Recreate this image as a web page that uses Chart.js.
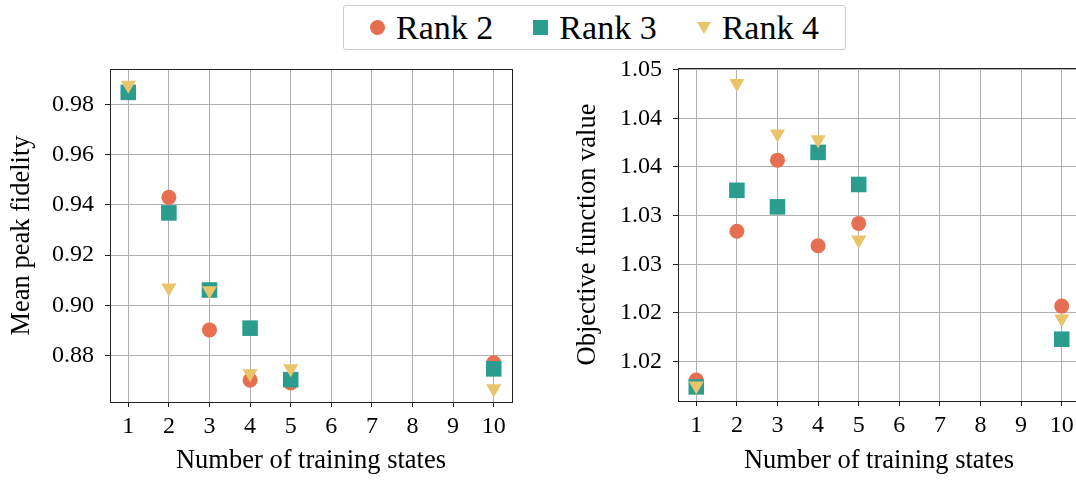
<!DOCTYPE html>
<html>
<head>
<meta charset="utf-8">
<script src="https://cdn.jsdelivr.net/npm/chart.js@4"></script>
<style>
  html, body { margin: 0; padding: 0; background: #fff; overflow: hidden; }
  body { width: 1076px; height: 480px; position: relative; font-family: "Liberation Serif", serif; }
  canvas { position: absolute; top: 0; }
  #left { left: 0; }
  #right { left: 540px; }
  #legend {
    position: absolute; left: 343px; top: 5px; width: 501px; height: 43px;
    border: 1px solid #cccccc; border-radius: 3px; box-sizing: content-box;
    display: flex; align-items: center; justify-content: center; gap: 40px;
    font-size: 34px; color: #000;
  }
  .item { display: flex; align-items: center; gap: 11px; }
  .mk { display: inline-block; }
</style>
</head>
<body>
<div id="legend"></div>
<canvas id="left" width="540" height="480"></canvas>
<canvas id="right" width="560" height="480"></canvas>
<script>
const xValues = [1, 2, 3, 4, 5, 10];
const xTicks = [1, 2, 3, 4, 5, 6, 7, 8, 9, 10];
const seriesNames = ['Rank 2', 'Rank 3', 'Rank 4'];

// left panel: mean peak fidelity
const fidelityRank2 = [0.9848, 0.9430, 0.8902, 0.8702, 0.8691, 0.8771];
const fidelityRank3 = [0.9848, 0.9368, 0.9061, 0.8909, 0.8704, 0.8747];
const fidelityRank4 = [0.9877, 0.9070, 0.9059, 0.8728, 0.8748, 0.8668];
const fidelityTicks = [0.88, 0.90, 0.92, 0.94, 0.96, 0.98];

// right panel: objective function value
const objectiveRank2 = [1.0156, 1.0309, 1.0382, 1.0294, 1.0317, 1.0232];
const objectiveRank3 = [1.0149, 1.0351, 1.0334, 1.0390, 1.0357, 1.0198];
const objectiveRank4 = [1.0150, 1.0461, 1.0409, 1.0403, 1.0300, 1.0219];
const objectiveTicks = [1.0175, 1.0225, 1.0275, 1.0325, 1.0375, 1.0425, 1.0475];

const colors = ['#e76f51', '#2a9d8f', '#e9c46a'];
const FONT = 'Liberation Serif';

function pts(ys) {
  return xValues.map((x, i) => ({ x: x, y: ys[i] }));
}

// order: triangles on top, then squares, circles at the bottom
function makeDatasets(r2, r3, r4) {
  return [
    { label: seriesNames[0], data: pts(r2), order: 3, pointStyle: 'circle', pointRadius: 7.5,
      backgroundColor: colors[0], borderColor: colors[0], borderWidth: 0 },
    { label: seriesNames[1], data: pts(r3), order: 2, pointStyle: 'rect', pointRadius: 11,
      backgroundColor: colors[1], borderColor: colors[1], borderWidth: 0 },
    { label: seriesNames[2], data: pts(r4), order: 1, pointStyle: 'triangle', rotation: 180, pointRadius: 8.7,
      backgroundColor: colors[2], borderColor: colors[2], borderWidth: 0 }
  ];
}

const frame = {
  id: 'frame',
  afterDatasetsDraw(chart) {
    const a = chart.chartArea, ctx = chart.ctx;
    ctx.save();
    ctx.strokeStyle = '#222';
    ctx.lineWidth = 1;
    ctx.strokeRect(Math.round(a.left) + 0.5, Math.round(a.top) + 0.5,
      Math.round(a.right - a.left), Math.round(a.bottom - a.top));
    ctx.restore();
  }
};

function panel(id, datasets, yTicks, yMin, yMax, yTitle, cfg) {
  return new Chart(document.getElementById(id), {
    type: 'scatter',
    data: { datasets: datasets },
    options: {
      responsive: false,
      animation: false,
      layout: { padding: { top: cfg.top, right: cfg.right, bottom: 0, left: 0 } },
      plugins: { legend: { display: false }, tooltip: { enabled: false } },
      scales: {
        x: {
          type: 'linear', min: 0.55, max: 10.45,
          afterBuildTicks: s => { s.ticks = xTicks.map(v => ({ value: v })); },
          afterFit: s => { s.height = cfg.xHeight; },
          grid: { color: '#b0b0b0', lineWidth: 1, tickColor: '#222', tickLength: 5 },
          border: { display: false },
          ticks: { color: '#000', padding: 5, font: { family: FONT, size: 24 }, callback: v => String(v) },
          title: { display: true, text: 'Number of training states', color: '#000',
                   font: { family: FONT, size: 26.5 }, padding: { top: 0, bottom: 3 } }
        },
        y: {
          min: yMin, max: yMax,
          afterBuildTicks: s => { s.ticks = yTicks.map(v => ({ value: v })); },
          afterFit: s => { s.width = cfg.yWidth; },
          grid: { color: '#b0b0b0', lineWidth: 1, tickColor: '#222', tickLength: 5 },
          border: { display: false },
          ticks: { color: '#000', padding: 11, font: { family: FONT, size: 24 }, callback: v => v.toFixed(2) },
          title: { display: true, text: yTitle, color: '#000',
                   font: { family: FONT, size: 26.5 }, padding: { top: cfg.yTitlePad, bottom: 0 } }
        }
      }
    },
    plugins: [frame]
  });
}

panel('left', makeDatasets(fidelityRank2, fidelityRank3, fidelityRank4),
  fidelityTicks, 0.8615, 0.9941, 'Mean peak fidelity',
  { top: 69, right: 28, xHeight: 78, yWidth: 110, yTitlePad: 6 });

panel('right', makeDatasets(objectiveRank2, objectiveRank3, objectiveRank4),
  objectiveTicks, 1.01345, 1.04767, 'Objective function value',
  { top: 68, right: 20, xHeight: 79, yWidth: 138, yTitlePad: 32 });

// shared legend built from the series names
const legend = document.getElementById('legend');
seriesNames.forEach((name, i) => {
  const item = document.createElement('span');
  item.className = 'item';
  const mk = document.createElement('span');
  mk.className = 'mk';
  if (i === 0) {
    mk.style.cssText = `width:15px;height:15px;border-radius:50%;background:${colors[0]}`;
  } else if (i === 1) {
    mk.style.cssText = `width:15px;height:15px;background:${colors[1]}`;
  } else {
    mk.style.cssText = `width:0;height:0;border-left:7px solid transparent;border-right:7px solid transparent;border-top:12px solid ${colors[2]}`;
  }
  const txt = document.createElement('span');
  txt.textContent = name;
  item.appendChild(mk);
  item.appendChild(txt);
  legend.appendChild(item);
});
</script>
</body>
</html>
